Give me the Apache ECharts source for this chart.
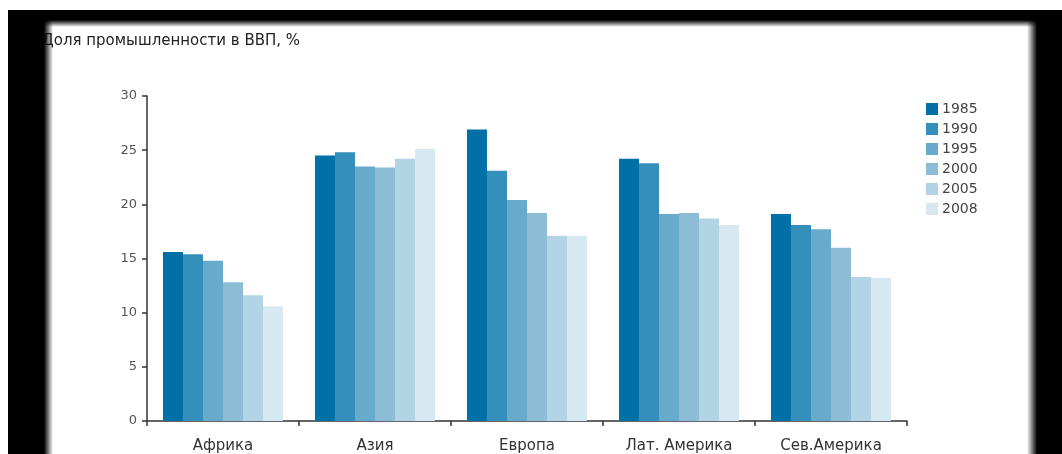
<!DOCTYPE html>
<html>
<head>
<meta charset="utf-8">
<script src="https://cdn.jsdelivr.net/npm/echarts@6/dist/echarts.min.js"></script>
<style>
  html, body { margin: 0; padding: 0; background: #fff; }
  #chart { width: 1062px; height: 454px; }
</style>
</head>
<body>
<div id="chart"></div>
<script>
const regions = ['Африка', 'Азия', 'Европа', 'Лат. Америка', 'Сев.Америка'];
const years = ['1985', '1990', '1995', '2000', '2005', '2008'];
const v1985 = [15.6, 24.5, 26.9, 24.2, 19.1];
const v1990 = [15.4, 24.8, 23.1, 23.8, 18.1];
const v1995 = [14.8, 23.5, 20.4, 19.1, 17.7];
const v2000 = [12.8, 23.4, 19.2, 19.2, 16.0];
const v2005 = [11.6, 24.2, 17.1, 18.7, 13.3];
const v2008 = [10.6, 25.1, 17.1, 18.1, 13.2];
const yTicks = [0, 5, 10, 15, 20, 25, 30];

const colors = ['#0070a6', '#348fbb', '#67aacb', '#8dbdd6', '#b3d4e5', '#d7e8f1'];
const font = 'DejaVu Sans';
const values = [v1985, v1990, v1995, v2000, v2005, v2008];

// black frame round the picture, soft inner edge
const fade = (x, y, x2, y2) => ({
    type: 'linear', x: x, y: y, x2: x2, y2: y2,
    colorStops: [{ offset: 0, color: 'rgba(0,0,0,1)' }, { offset: 1, color: 'rgba(0,0,0,0)' }]
});
const frame = [
    { type: 'rect', z: 100, shape: { x: 8, y: 10, width: 1054, height: 10 }, style: { fill: '#000' } },
    { type: 'rect', z: 100, shape: { x: 8, y: 20, width: 1054, height: 7 }, style: { fill: fade(0, 0, 0, 1) } },
    { type: 'rect', z: 100, shape: { x: 8, y: 10, width: 36, height: 444 }, style: { fill: '#000' } },
    { type: 'rect', z: 100, shape: { x: 44, y: 20, width: 9, height: 434 }, style: { fill: fade(0, 0, 1, 0) } },
    { type: 'rect', z: 100, shape: { x: 1037, y: 10, width: 25, height: 444 }, style: { fill: '#000' } },
    { type: 'rect', z: 100, shape: { x: 1027, y: 20, width: 10, height: 434 }, style: { fill: fade(1, 0, 0, 0) } }
];

const chart = echarts.init(document.getElementById('chart'));
chart.setOption({
    animation: false,
    color: colors,
    title: {
        text: 'Доля промышленности в ВВП, %',
        left: 37,
        top: 29,
        textStyle: { fontFamily: font, fontSize: 15, fontWeight: 'normal', color: '#222' }
    },
    legend: {
        orient: 'vertical',
        left: 926,
        top: 102,
        padding: 0,
        itemWidth: 12,
        itemHeight: 12,
        itemGap: 6,
        icon: 'rect',
        data: years,
        textStyle: { fontFamily: font, fontSize: 14, color: '#444', padding: [0, 0, 0, -1] }
    },
    grid: { left: 147, right: 155, top: 96, bottom: 33 },
    xAxis: {
        type: 'category',
        data: regions,
        axisLine: { lineStyle: { color: '#333', width: 1.5 } },
        axisTick: { show: true, length: 5, lineStyle: { color: '#333', width: 1.5 } },
        axisLabel: { fontFamily: font, fontSize: 15, color: '#333', margin: 18 }
    },
    yAxis: {
        type: 'value',
        min: 0,
        max: 30,
        interval: 5,
        splitLine: { show: false },
        axisLine: { show: true, lineStyle: { color: '#333', width: 1.5 } },
        axisTick: { show: true, length: 5, lineStyle: { color: '#333', width: 1.5 } },
        axisLabel: {
            fontFamily: font, fontSize: 13, color: '#555', margin: 10,
            formatter: v => (yTicks.indexOf(v) >= 0 ? String(v) : '')
        }
    },
    series: years.map((y, i) => ({
        name: y,
        type: 'bar',
        data: values[i],
        barGap: '0%',
        barCategoryGap: '21%'
    })),
    graphic: frame
});
</script>
</body>
</html>
